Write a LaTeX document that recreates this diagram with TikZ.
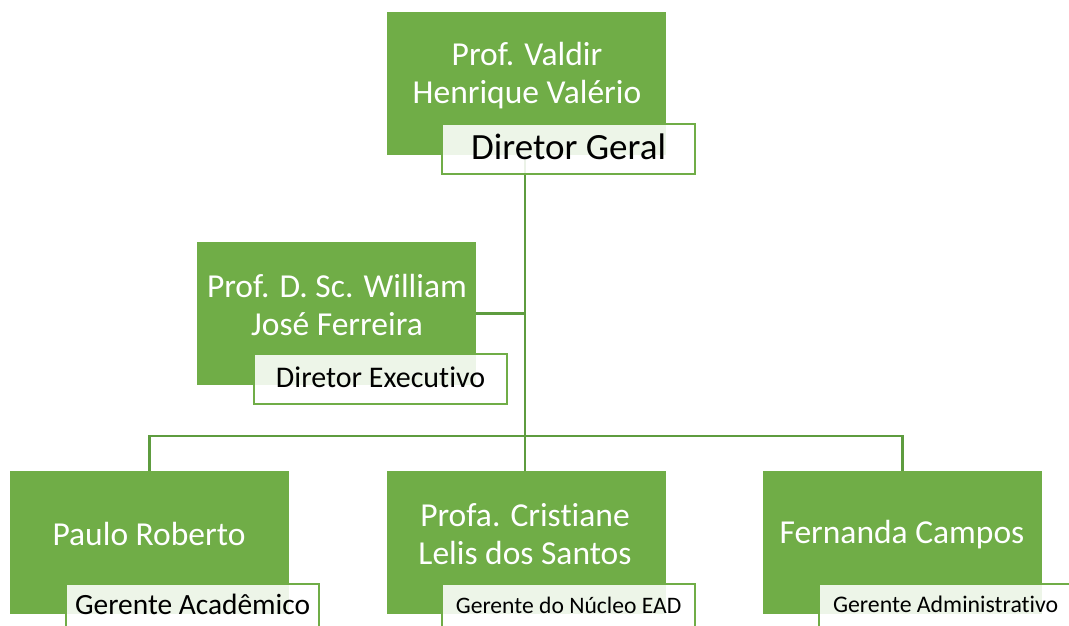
\documentclass[tikz,border=0pt]{standalone}
\usepackage{fontspec}
\setmainfont[Ligatures=NoCommon]{Carlito}
\definecolor{boxgreen}{HTML}{70AD47}
\definecolor{linegreen}{HTML}{5E9C3F}
\definecolor{bordergreen}{HTML}{70AD47}
\tikzset{
  namebox/.style={fill=boxgreen, draw=boxgreen!80!white, line width=0.8pt, minimum width=278pt, minimum height=142pt, inner sep=0pt, anchor=north west},
  namebtext/.style={text=white, align=center, inner sep=0pt},
  labelbox/.style={fill=white, fill opacity=0.88, text opacity=1, draw=bordergreen, line width=2.2pt, minimum width=253pt, minimum height=50pt, inner sep=0pt, anchor=north west, text=black},
  conn/.style={draw=linegreen, line width=2.6pt}
}
\begin{document}
\begin{tikzpicture}[x=1pt,y=-1pt]
\useasboundingbox (0,0) rectangle (1069,625);
\clip (0,0) rectangle (1069,625);
% green boxes
\node[namebox] (g1) at (387,12) {};
\node[namebox] (g2) at (197,242) {};
\node[namebox] (b1) at (10,471) {};
\node[namebox] (b2) at (387,471) {};
\node[namebox] (b3) at (763,471) {};
% connectors
\coordinate (bus) at (525,436);
\draw[conn] (g1.south -| bus) -- (bus);
\draw[conn] (g2.east) -- (g2.east -| bus);
\draw[conn] (b1.north) |- (bus) -| (b3.north);
\draw[conn] (bus) -- (b2.north -| bus);
% redraw boxes above connectors
\fill[boxgreen] (g1.north west) rectangle (g1.south east);
\fill[boxgreen] (g2.north west) rectangle (g2.south east);
\fill[boxgreen] (b1.north west) rectangle (b1.south east);
\fill[boxgreen] (b2.north west) rectangle (b2.south east);
\fill[boxgreen] (b3.north west) rectangle (b3.south east);
% names
\node[namebtext, font=\fontsize{33.5}{38}\selectfont] (n1) at (527,76) {Prof. Valdir\\Henrique Valério};
\node[namebtext, font=\fontsize{33.5}{38}\selectfont] (n2) at (337,305) {Prof. D. Sc. William\\José Ferreira};
\node[namebtext, font=\fontsize{33.5}{38}\selectfont] (n3) at (149,534) {Paulo Roberto};
\node[namebtext, font=\fontsize{33.5}{38}\selectfont] (n4) at (525,534) {Profa. Cristiane\\Lelis dos Santos};
\node[namebtext, font=\fontsize{33.5}{38}\selectfont] (n5) at (902,535) {Fernanda Campos};
% labels
\node[labelbox, font=\fontsize{37}{42}\selectfont, text height=26pt, text depth=5pt] (l1) at (441,123) {Diretor Geral};
\node[labelbox, font=\fontsize{30}{34}\selectfont, text height=22pt, text depth=5pt] (l2) at (253,353) {Diretor Executivo};
\node[labelbox, font=\fontsize{29.4}{34}\selectfont, text height=22pt, text depth=12pt] (l3) at (65,583) {Gerente Acadêmico};
\node[labelbox, font=\fontsize{23.6}{28}\selectfont, text height=17pt, text depth=9pt] (l4) at (441,583) {Gerente do Núcleo EAD};
\node[labelbox, font=\fontsize{23.8}{28}\selectfont, text height=17pt, text depth=10pt] (l5) at (818,583) {Gerente Administrativo};
\end{tikzpicture}
\end{document}
